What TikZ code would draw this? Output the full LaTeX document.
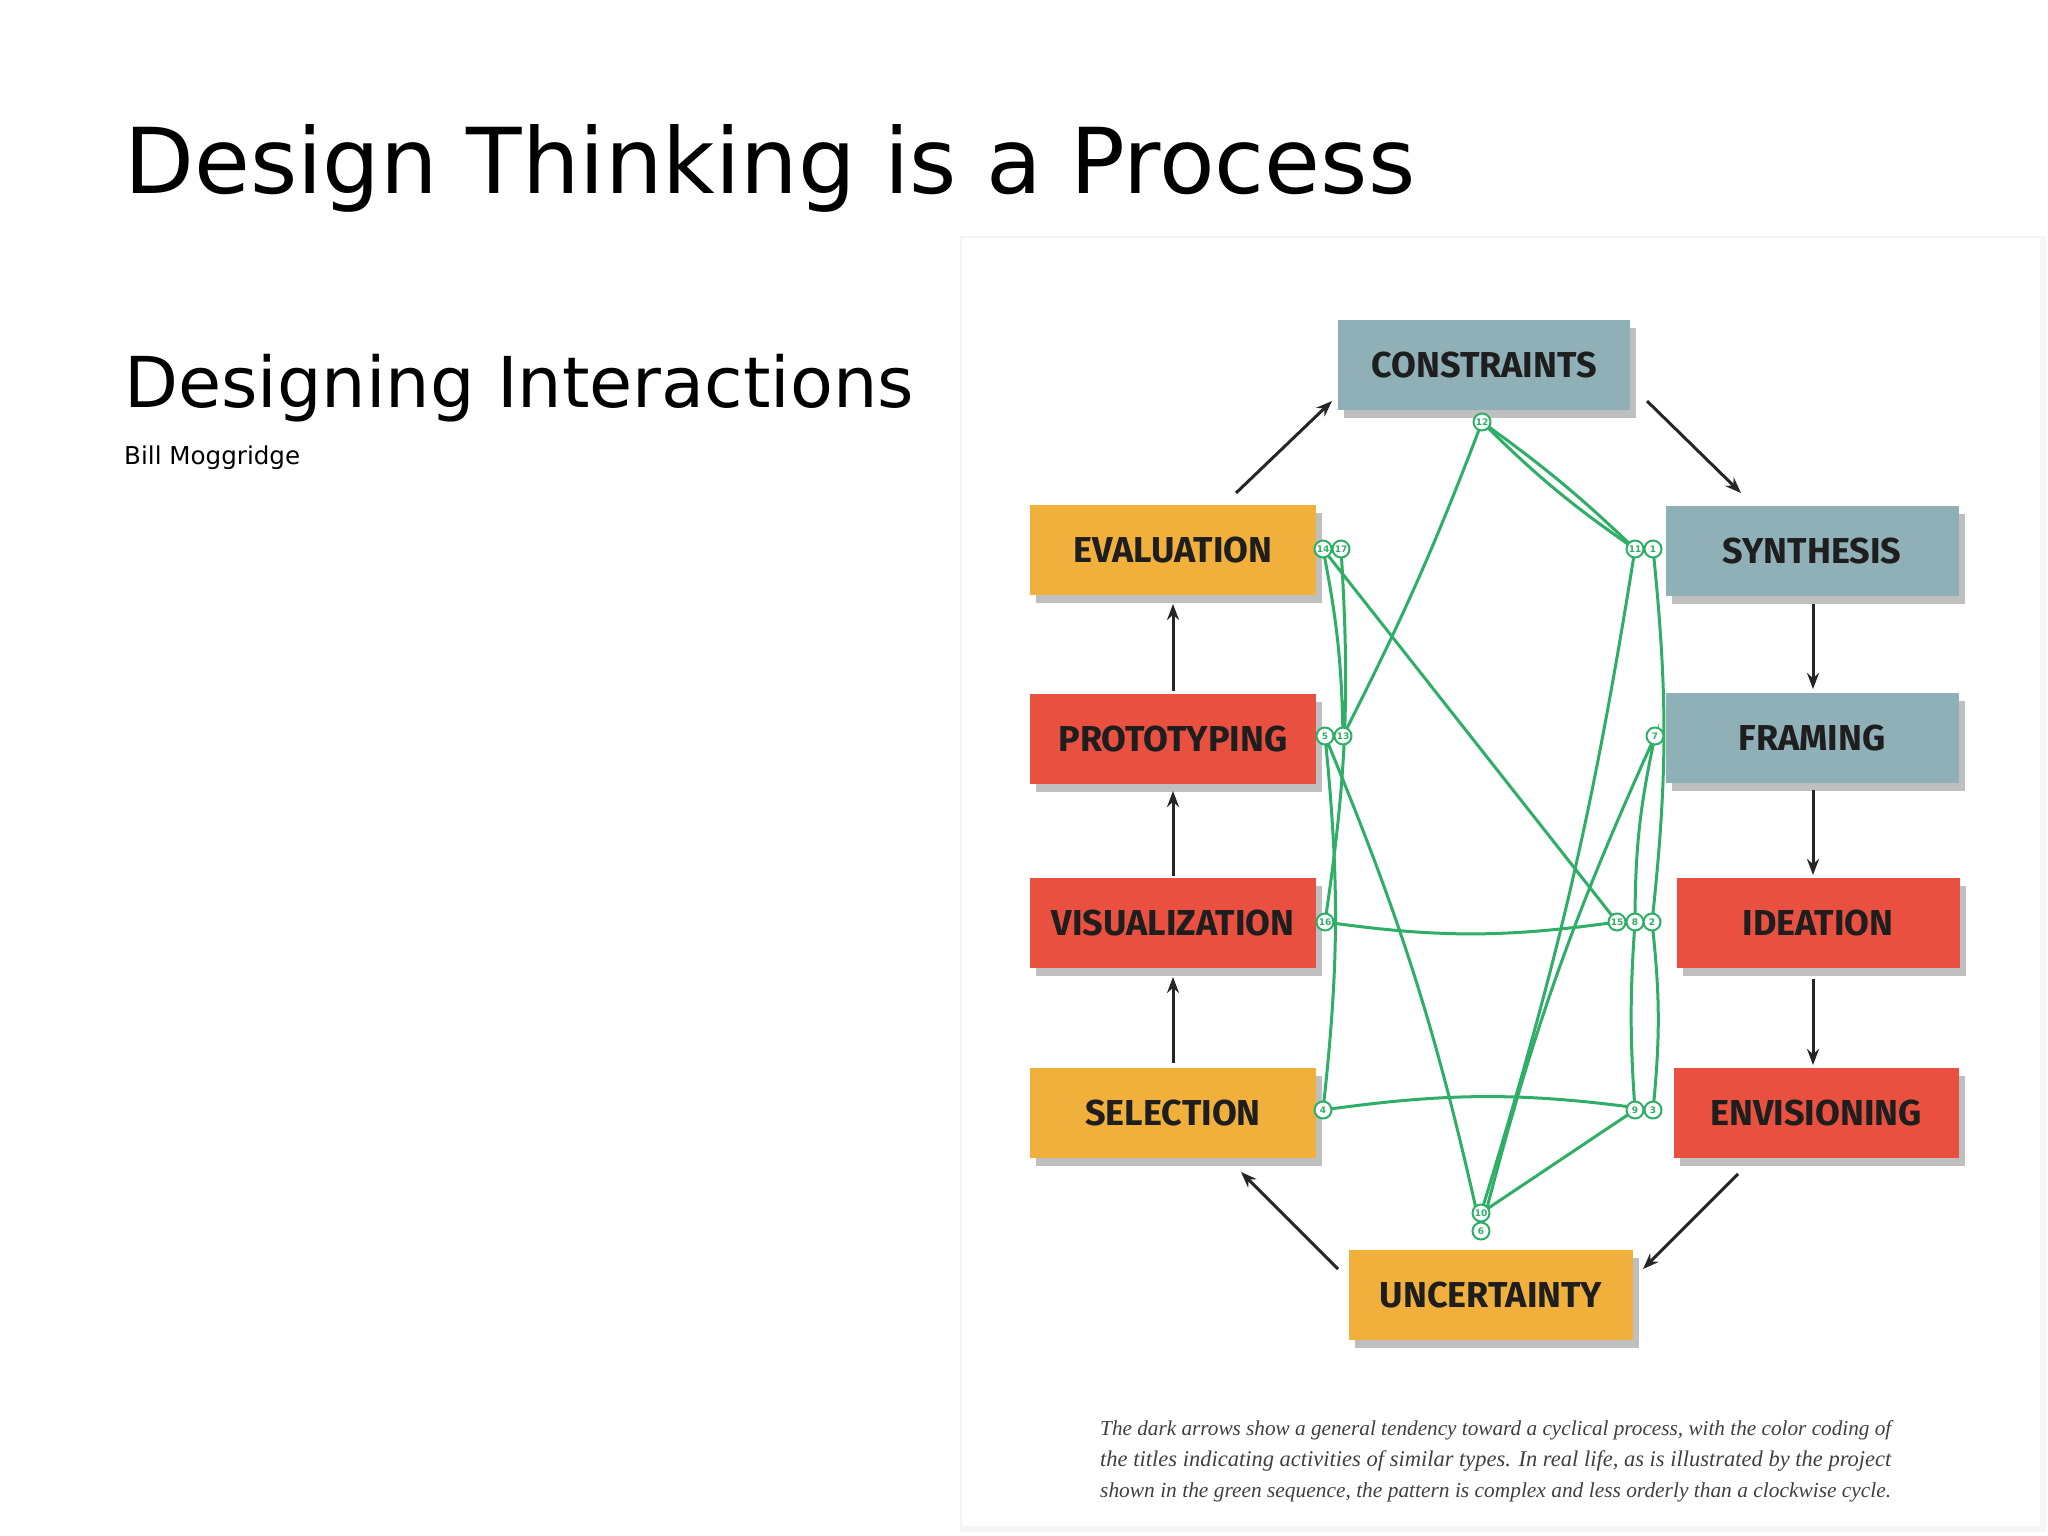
\documentclass[tikz,border=0pt]{standalone}
\usepackage{fontspec}
\setmainfont{DejaVu Sans}
\newfontfamily\boxfont{Fira Sans}
\newfontfamily\capfont{Liberation Serif}
\usetikzlibrary{shadows,arrows.meta}
\definecolor{cteal}{HTML}{8FB0B6}
\definecolor{corange}{HTML}{F1B03C}
\definecolor{cred}{HTML}{E9503F}
\definecolor{cgreen}{HTML}{2EAE66}
\definecolor{ctext}{HTML}{1E1E1E}
\begin{document}
\begin{tikzpicture}[x=1pt,y=-1pt,
  stage/.style={minimum width=#1, minimum height=90pt, inner sep=0pt,
    font=\boxfont\bfseries\fontsize{36}{36}\selectfont, text=ctext,
    drop shadow={shadow xshift=6pt,shadow yshift=-8pt,opacity=0.25,fill=black}},
  dot/.style={circle,draw=cgreen,fill=white,line width=2pt,inner sep=0pt,minimum size=17pt,
    font=\bfseries\fontsize{9}{9}\selectfont,text=cgreen},
  gl/.style={draw=cgreen,line width=3pt},
  ar/.style={-{Stealth[length=16pt,width=12pt]},line width=3pt,draw=black!85}]
\useasboundingbox (0,0) rectangle (2048,1536);
\fill[white] (0,0) rectangle (2048,1536);
\fill[black!4] (960,236) rectangle (2046,1532);
\fill[white] (962,238) rectangle (2040,1526);
% titles
\node[anchor=west,inner sep=0pt] (title) at (124,168) {\resizebox{1290pt}{!}{Design Thinking is a Process}};
\node[anchor=west,inner sep=0pt] (sub) at (124,388) {\resizebox{790pt}{!}{Designing Interactions}};
\node[anchor=west,inner sep=0pt] (auth) at (124,458) {\resizebox{176pt}{!}{Bill Moggridge}};
% stages
\node[stage=292pt,fill=cteal] (con) at (1484,365) {CONSTRAINTS};
\node[stage=293pt,fill=cteal] (syn) at (1812,551) {SYNTHESIS};
\node[stage=293pt,fill=cteal] (fra) at (1812,738) {FRAMING};
\node[stage=283pt,fill=cred] (ide) at (1818,923) {IDEATION};
\node[stage=285pt,fill=cred] (env) at (1816,1113) {ENVISIONING};
\node[stage=284pt,fill=corange] (unc) at (1491,1295) {UNCERTAINTY};
\node[stage=286pt,fill=corange] (sel) at (1173,1113) {SELECTION};
\node[stage=286pt,fill=cred] (vis) at (1173,923) {VISUALIZATION};
\node[stage=286pt,fill=cred] (pro) at (1173,739) {PROTOTYPING};
\node[stage=286pt,fill=corange] (eva) at (1173,550) {EVALUATION};
% dark arrows
\coordinate (a1) at (1236,493); \coordinate (b1) at (1332,401);
\coordinate (a2) at (1647,401); \coordinate (b2) at (1741,493);
\coordinate (a3) at (1813,604); \coordinate (b3) at (1813,689);
\coordinate (a4) at (1813,790); \coordinate (b4) at (1813,875);
\coordinate (a5) at (1813,979); \coordinate (b5) at (1813,1065);
\coordinate (a6) at (1738,1174); \coordinate (b6) at (1643,1269);
\coordinate (a7) at (1338,1269); \coordinate (b7) at (1241,1172);
\coordinate (a8) at (1173,1063); \coordinate (b8) at (1173,977);
\coordinate (a9) at (1173,876); \coordinate (b9) at (1173,791);
\coordinate (a10) at (1173,691); \coordinate (b10) at (1173,604);
\foreach \i in {1,...,10} \draw[ar] (a\i) -- (b\i);
% green sequence
\path (1653,549) coordinate (p1) (1652,922) coordinate (p2) (1653,1110) coordinate (p3)
 (1323,1110) coordinate (p4) (1325,736) coordinate (p5) (1481,1231) coordinate (p6)
 (1655,736) coordinate (p7) (1635,922) coordinate (p8) (1635,1110) coordinate (p9)
 (1481,1213) coordinate (p10) (1635,549) coordinate (p11) (1482,422) coordinate (p12)
 (1343,736) coordinate (p13) (1323,549) coordinate (p14) (1617,922) coordinate (p15)
 (1325,922) coordinate (p16) (1341,549) coordinate (p17);
\draw[gl] (p1) to[bend left=6] (p2) to[bend left=6] (p3);
\draw[gl] (p3) to[bend right=8] (p4) to[bend right=6] (p5) to[bend left=5] (p6);
\draw[gl] (p6) to[bend left=5] (p7) to[bend right=6] (p8) to[bend right=4] (p9) -- (p10);
\draw[gl] (p10) to[bend right=4] (p11) to[bend left=5] (p12) to[bend left=3] (p13);
\draw[gl] (p13) to[bend right=5] (p14) -- (p15) to[bend left=8] (p16) to[bend right=6] (p17);
\draw[gl] (p11) to[bend right=4] (p12);
\foreach \i in {1,...,17} \node[dot] (d\i) at (p\i) {\i};
% caption
\node[anchor=west,inner sep=0pt,text=black!75] (c1) at (1100,1430) {\resizebox{791pt}{!}{\capfont\itshape The dark arrows show a general tendency toward a cyclical process, with the color coding of}};
\node[anchor=west,inner sep=0pt,text=black!75] (c2) at (1100,1461) {\resizebox{791pt}{!}{\capfont\itshape the titles indicating activities of similar types. In real life, as is illustrated by the project}};
\node[anchor=west,inner sep=0pt,text=black!75] (c3) at (1100,1492) {\resizebox{791pt}{!}{\capfont\itshape shown in the green sequence, the pattern is complex and less orderly than a clockwise cycle.}};
\end{tikzpicture}
\end{document}
